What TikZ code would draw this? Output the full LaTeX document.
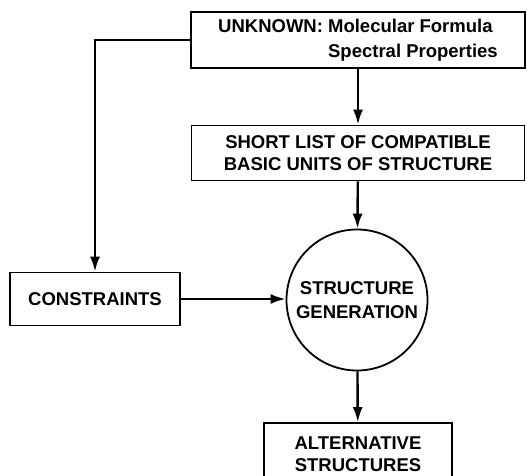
\documentclass[tikz,border=0pt]{standalone}
\usepackage{fontspec}
\setmainfont{Liberation Sans}
\usetikzlibrary{arrows.meta}
\tikzset{
  box/.style={draw, line width=1.8pt, font=\fontsize{18.5}{24.5}\selectfont\bfseries, align=center, inner sep=0pt},
  flow/.style={line width=2.4pt, -{Latex[length=15pt,width=10pt]}},
}
\begin{document}
\begin{tikzpicture}[x=1pt,y=-1pt]
\useasboundingbox (0,0) rectangle (527,476);
\clip (0,0) rectangle (527,476);
\node[box, minimum width=334pt, minimum height=56pt] (unknown) at (358,40)
  {\begin{tabular}{@{}l@{ }l@{}}UNKNOWN: & Molecular Formula\\ & Spectral Properties\end{tabular}};
\node[box, minimum width=333pt, minimum height=55pt, font=\fontsize{18.5}{22}\selectfont\bfseries] (shortlist) at (358,153)
  {SHORT LIST OF COMPATIBLE\\BASIC UNITS OF STRUCTURE};
\node[box, circle, minimum size=141pt] (gen) at (357,300) {STRUCTURE\\GENERATION};
\node[box, minimum width=170pt, minimum height=53pt] (constraints) at (95,299) {CONSTRAINTS};
\node[box, minimum width=188pt, minimum height=62pt, font=\fontsize{18.5}{21.5}\selectfont\bfseries] (alt) at (358,454) {ALTERNATIVE\\STRUCTURES};

\draw[flow] (unknown) -- (shortlist);
\draw[flow] (shortlist) -- (gen);
\draw[flow] (gen) -- (alt);
\draw[flow] (unknown.west) -| (constraints.north);
\draw[flow] (constraints.east) -- (constraints.east -| gen.west);

\end{tikzpicture}
\end{document}
